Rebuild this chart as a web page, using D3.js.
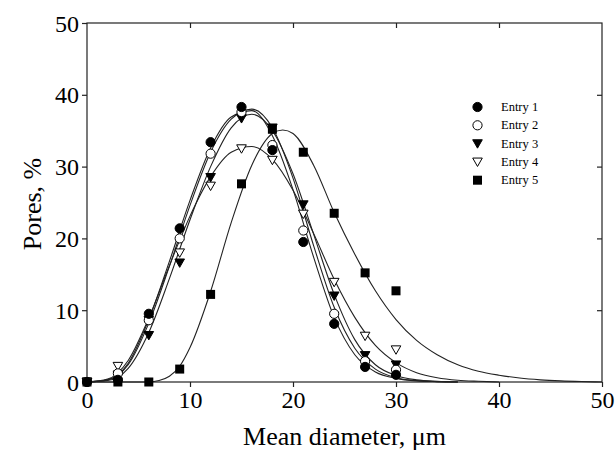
<!DOCTYPE html>
<html>
<head>
<meta charset="utf-8">
<script src="https://cdn.jsdelivr.net/npm/d3@7"></script>
<style>
  body { margin: 0; background: #fff; }
  svg { display: block; }
  text { font-family: "Liberation Serif", "Times New Roman", serif; fill: #000; }
</style>
</head>
<body>
<svg id="chart" width="616" height="453"></svg>
<script>
// measured points (x = mean diameter, um)
const xs = [0, 3, 6, 9, 12, 15, 18, 21, 24, 27, 30];
const entry1 = [0, 0.3, 9.5, 21.4, 33.4, 38.3, 32.3, 19.5, 8.1, 2.1, 1.0];
const entry2 = [0, 1.2, 8.6, 20.0, 31.8, 37.6, 33.0, 21.1, 9.5, 2.9, 1.7];
const entry3 = [0, 1.0, 6.5, 16.6, 28.5, 36.7, 35.4, 24.7, 12.0, 3.7, 2.4];
const entry4 = [0, 2.2, 8.6, 18.0, 27.3, 32.5, 30.9, 23.4, 13.9, 6.4, 4.5];
const entry5 = [0, 0, 0, 1.8, 12.2, 27.6, 35.2, 32.0, 23.5, 15.2, 12.7];

// fitted curves
const fitX1 = [0, 2, 4, 6, 8, 10, 12, 14, 16, 18, 20, 22, 24, 26, 28, 30, 32, 34, 36];
const fit1  = [0, 0.3, 2.6, 8.7, 16.8, 25.3, 32.6, 36.9, 37.8, 34.3, 26.8, 17.4, 9.0, 3.8, 1.4, 0.5, 0.15, 0.05, 0];
const fit2  = [0, 0.3, 2.4, 8.2, 16.1, 24.6, 32.0, 36.6, 38.0, 35.4, 28.4, 19.0, 10.4, 4.7, 1.8, 0.6, 0.2, 0.05, 0];
const fit3  = [0, 0.2, 1.9, 6.9, 14.4, 22.6, 30.0, 35.4, 37.3, 35.0, 29.0, 20.6, 12.2, 5.9, 2.4, 0.9, 0.3, 0.1, 0];
const fitX4 = [0, 2, 4, 6, 8, 10, 12, 14, 16, 18, 20, 22, 24, 26, 28, 30, 32, 34, 36, 38, 40];
const fit4  = [0, 0.4, 3.0, 8.9, 16.2, 23.1, 28.6, 32.0, 32.8, 31.0, 26.7, 20.7, 14.3, 9.0, 5.1, 2.7, 1.3, 0.6, 0.25, 0.1, 0];
const fitX5 = [0, 6, 7, 8, 9, 10, 12, 14, 16, 18, 19, 20, 22, 24, 26, 28, 30, 32, 34, 36, 38, 40, 42, 44, 46, 48, 50];
const fit5  = [0, 0, 0.2, 0.8, 2.2, 4.8, 12.6, 22.2, 30.2, 34.6, 35.1, 34.6, 30.2, 23.6, 17.8, 12.7, 8.7, 5.8, 3.8, 2.4, 1.5, 0.95, 0.55, 0.3, 0.15, 0.06, 0];

const xTicks = [0, 10, 20, 30, 40, 50];
const yTicks = [0, 10, 20, 30, 40, 50];

const series = [
  { name: "Entry 1", y: entry1, fx: fitX1, fy: fit1, shape: "circle", fill: "#000" },
  { name: "Entry 2", y: entry2, fx: fitX1, fy: fit2, shape: "circle", fill: "#fff" },
  { name: "Entry 3", y: entry3, fx: fitX1, fy: fit3, shape: "tri", fill: "#000" },
  { name: "Entry 4", y: entry4, fx: fitX4, fy: fit4, shape: "tri", fill: "#fff" },
  { name: "Entry 5", y: entry5, fx: fitX5, fy: fit5, shape: "square", fill: "#000" }
];

const svg = d3.select("#chart");
const plotLeft = 87, plotRight = 602, plotTop = 23, plotBottom = 382;

const x = d3.scaleLinear().domain([0, 50]).range([plotLeft, plotRight]);
const y = d3.scaleLinear().domain([0, 50]).range([plotBottom, plotTop]);

// frame
svg.append("rect")
  .attr("x", plotLeft).attr("y", plotTop)
  .attr("width", plotRight - plotLeft).attr("height", plotBottom - plotTop)
  .attr("fill", "none").attr("stroke", "#222").attr("stroke-width", 1.2);

const axisStyle = g => {
  g.select(".domain").remove();
  g.selectAll(".tick line").attr("stroke", "#222").attr("stroke-width", 1.2);
  g.selectAll(".tick text")
    .style("font-family", '"Liberation Serif", serif')
    .style("font-size", "24px").attr("fill", "#000");
};

svg.append("g").attr("transform", `translate(0,${plotBottom})`)
  .call(d3.axisBottom(x).tickValues(xTicks).tickSize(5).tickPadding(4))
  .call(axisStyle);
svg.append("g").attr("transform", `translate(${plotLeft},0)`)
  .call(d3.axisLeft(y).tickValues(yTicks).tickSize(5).tickPadding(3))
  .call(axisStyle)
  .selectAll(".tick text").attr("dy", "0.34em");
svg.append("g").attr("transform", `translate(0,${plotTop})`)
  .call(d3.axisBottom(x).tickValues(xTicks.slice(1, -1)).tickSize(5).tickFormat(""))
  .call(axisStyle);
svg.append("g").attr("transform", `translate(${plotRight},0)`)
  .call(d3.axisRight(y).tickValues(yTicks.slice(1, -1)).tickSize(-5).tickFormat(""))
  .call(axisStyle);

// titles
svg.append("text")
  .attr("x", (plotLeft + plotRight) / 2).attr("y", 445)
  .attr("text-anchor", "middle").style("font-size", "26px")
  .text("Mean diameter, \u03bcm");
svg.append("text")
  .attr("transform", `translate(41,204) rotate(-90)`)
  .attr("text-anchor", "middle").style("font-size", "26px")
  .text("Pores, %");

// fitted curves
const line = d3.line().x(d => x(d[0])).y(d => y(d[1])).curve(d3.curveMonotoneX);
series.forEach(s => {
  svg.append("path")
    .datum(s.fx.map((v, i) => [v, s.fy[i]]))
    .attr("d", line)
    .attr("fill", "none").attr("stroke", "#222").attr("stroke-width", 1.1);
});

function marker(g, shape, fill, cx, cy) {
  if (shape === "circle") {
    g.append("circle").attr("cx", cx).attr("cy", cy).attr("r", 4.6)
      .attr("fill", fill).attr("stroke", "#000").attr("stroke-width", 1);
  } else if (shape === "tri") {
    const h = 4.8;
    g.append("path")
      .attr("d", `M${cx - h},${cy - h * 0.8}L${cx + h},${cy - h * 0.8}L${cx},${cy + h * 0.95}Z`)
      .attr("fill", fill).attr("stroke", "#000").attr("stroke-width", 1);
  } else {
    g.append("rect").attr("x", cx - 4.5).attr("y", cy - 4.5)
      .attr("width", 9).attr("height", 9).attr("fill", fill);
  }
}

const pts = svg.append("g");
[...series].reverse().forEach(s => {
  xs.forEach((xv, i) => marker(pts, s.shape, s.fill, x(xv), y(s.y[i])));
});

// legend
const legend = svg.append("g");
series.forEach((s, i) => {
  const ly = 107 + i * 18.3;
  marker(legend, s.shape, s.fill, 477.5, ly);
  legend.append("text")
    .attr("x", 501).attr("y", ly + 4)
    .style("font-size", "12.5px")
    .text(s.name);
});
</script>
</body>
</html>
